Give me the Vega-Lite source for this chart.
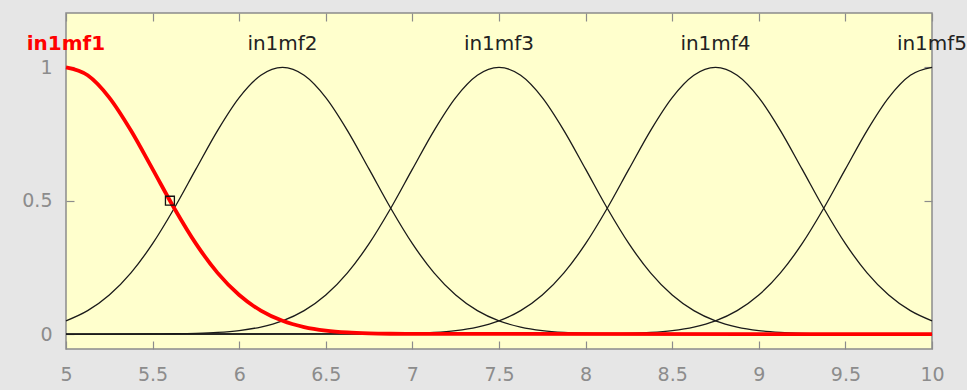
{
  "$schema": "https://vega.github.io/schema/vega-lite/v6.json",
  "width": 866,
  "height": 336,
  "autosize": "none",
  "padding": {"left": 66, "top": 13, "right": 35, "bottom": 41},
  "background": "#e6e6e6",
  "config": {
    "view": {"fill": "#ffffcd", "stroke": "#8c8c8c", "strokeWidth": 1.5},
    "font": "DejaVu Sans",
    "axis": {
      "domain": false,
      "grid": false,
      "title": null,
      "tickColor": "#8c8c8c",
      "tickWidth": 1.2,
      "tickSize": 8,
      "offset": -8,
      "labelFlush": false,
      "labelOverlap": false,
      "labelFont": "DejaVu Sans",
      "labelFontSize": 19,
      "labelColor": "#8c8c8c"
    }
  },
  "datasets": {
    "curves": [
      {"mf": "in1mf1", "x": 5, "mu": 1},
      {"mf": "in1mf1", "x": 5.125, "mu": 0.9704},
      {"mf": "in1mf1", "x": 5.25, "mu": 0.8868},
      {"mf": "in1mf1", "x": 5.375, "mu": 0.7632},
      {"mf": "in1mf1", "x": 5.5, "mu": 0.6184},
      {"mf": "in1mf1", "x": 5.625, "mu": 0.4719},
      {"mf": "in1mf1", "x": 5.75, "mu": 0.3391},
      {"mf": "in1mf1", "x": 5.875, "mu": 0.2295},
      {"mf": "in1mf1", "x": 6, "mu": 0.1463},
      {"mf": "in1mf1", "x": 6.125, "mu": 0.0878},
      {"mf": "in1mf1", "x": 6.25, "mu": 0.0496},
      {"mf": "in1mf1", "x": 6.375, "mu": 0.0264},
      {"mf": "in1mf1", "x": 6.5, "mu": 0.0132},
      {"mf": "in1mf1", "x": 6.625, "mu": 0.0062},
      {"mf": "in1mf1", "x": 6.75, "mu": 0.0028},
      {"mf": "in1mf1", "x": 6.875, "mu": 0.0012},
      {"mf": "in1mf1", "x": 7, "mu": 0.0005},
      {"mf": "in1mf1", "x": 10, "mu": 0},

      {"mf": "in1mf2", "x": 5, "mu": 0.0496},
      {"mf": "in1mf2", "x": 5.125, "mu": 0.0878},
      {"mf": "in1mf2", "x": 5.25, "mu": 0.1463},
      {"mf": "in1mf2", "x": 5.375, "mu": 0.2295},
      {"mf": "in1mf2", "x": 5.5, "mu": 0.3391},
      {"mf": "in1mf2", "x": 5.625, "mu": 0.4719},
      {"mf": "in1mf2", "x": 5.75, "mu": 0.6184},
      {"mf": "in1mf2", "x": 5.875, "mu": 0.7632},
      {"mf": "in1mf2", "x": 6, "mu": 0.8868},
      {"mf": "in1mf2", "x": 6.125, "mu": 0.9704},
      {"mf": "in1mf2", "x": 6.25, "mu": 1},
      {"mf": "in1mf2", "x": 6.375, "mu": 0.9704},
      {"mf": "in1mf2", "x": 6.5, "mu": 0.8868},
      {"mf": "in1mf2", "x": 6.625, "mu": 0.7632},
      {"mf": "in1mf2", "x": 6.75, "mu": 0.6184},
      {"mf": "in1mf2", "x": 6.875, "mu": 0.4719},
      {"mf": "in1mf2", "x": 7, "mu": 0.3391},
      {"mf": "in1mf2", "x": 7.125, "mu": 0.2295},
      {"mf": "in1mf2", "x": 7.25, "mu": 0.1463},
      {"mf": "in1mf2", "x": 7.375, "mu": 0.0878},
      {"mf": "in1mf2", "x": 7.5, "mu": 0.0496},
      {"mf": "in1mf2", "x": 7.625, "mu": 0.0264},
      {"mf": "in1mf2", "x": 7.75, "mu": 0.0132},
      {"mf": "in1mf2", "x": 7.875, "mu": 0.0062},
      {"mf": "in1mf2", "x": 8, "mu": 0.0028},
      {"mf": "in1mf2", "x": 8.125, "mu": 0.0012},
      {"mf": "in1mf2", "x": 8.25, "mu": 0.0005},
      {"mf": "in1mf2", "x": 10, "mu": 0},

      {"mf": "in1mf3", "x": 5, "mu": 0},
      {"mf": "in1mf3", "x": 5.5, "mu": 0.0005},
      {"mf": "in1mf3", "x": 5.625, "mu": 0.0012},
      {"mf": "in1mf3", "x": 5.75, "mu": 0.0028},
      {"mf": "in1mf3", "x": 5.875, "mu": 0.0062},
      {"mf": "in1mf3", "x": 6, "mu": 0.0132},
      {"mf": "in1mf3", "x": 6.125, "mu": 0.0264},
      {"mf": "in1mf3", "x": 6.25, "mu": 0.0496},
      {"mf": "in1mf3", "x": 6.375, "mu": 0.0878},
      {"mf": "in1mf3", "x": 6.5, "mu": 0.1463},
      {"mf": "in1mf3", "x": 6.625, "mu": 0.2295},
      {"mf": "in1mf3", "x": 6.75, "mu": 0.3391},
      {"mf": "in1mf3", "x": 6.875, "mu": 0.4719},
      {"mf": "in1mf3", "x": 7, "mu": 0.6184},
      {"mf": "in1mf3", "x": 7.125, "mu": 0.7632},
      {"mf": "in1mf3", "x": 7.25, "mu": 0.8868},
      {"mf": "in1mf3", "x": 7.375, "mu": 0.9704},
      {"mf": "in1mf3", "x": 7.5, "mu": 1},
      {"mf": "in1mf3", "x": 7.625, "mu": 0.9704},
      {"mf": "in1mf3", "x": 7.75, "mu": 0.8868},
      {"mf": "in1mf3", "x": 7.875, "mu": 0.7632},
      {"mf": "in1mf3", "x": 8, "mu": 0.6184},
      {"mf": "in1mf3", "x": 8.125, "mu": 0.4719},
      {"mf": "in1mf3", "x": 8.25, "mu": 0.3391},
      {"mf": "in1mf3", "x": 8.375, "mu": 0.2295},
      {"mf": "in1mf3", "x": 8.5, "mu": 0.1463},
      {"mf": "in1mf3", "x": 8.625, "mu": 0.0878},
      {"mf": "in1mf3", "x": 8.75, "mu": 0.0496},
      {"mf": "in1mf3", "x": 8.875, "mu": 0.0264},
      {"mf": "in1mf3", "x": 9, "mu": 0.0132},
      {"mf": "in1mf3", "x": 9.125, "mu": 0.0062},
      {"mf": "in1mf3", "x": 9.25, "mu": 0.0028},
      {"mf": "in1mf3", "x": 9.375, "mu": 0.0012},
      {"mf": "in1mf3", "x": 9.5, "mu": 0.0005},
      {"mf": "in1mf3", "x": 10, "mu": 0},

      {"mf": "in1mf4", "x": 5, "mu": 0},
      {"mf": "in1mf4", "x": 6.75, "mu": 0.0005},
      {"mf": "in1mf4", "x": 6.875, "mu": 0.0012},
      {"mf": "in1mf4", "x": 7, "mu": 0.0028},
      {"mf": "in1mf4", "x": 7.125, "mu": 0.0062},
      {"mf": "in1mf4", "x": 7.25, "mu": 0.0132},
      {"mf": "in1mf4", "x": 7.375, "mu": 0.0264},
      {"mf": "in1mf4", "x": 7.5, "mu": 0.0496},
      {"mf": "in1mf4", "x": 7.625, "mu": 0.0878},
      {"mf": "in1mf4", "x": 7.75, "mu": 0.1463},
      {"mf": "in1mf4", "x": 7.875, "mu": 0.2295},
      {"mf": "in1mf4", "x": 8, "mu": 0.3391},
      {"mf": "in1mf4", "x": 8.125, "mu": 0.4719},
      {"mf": "in1mf4", "x": 8.25, "mu": 0.6184},
      {"mf": "in1mf4", "x": 8.375, "mu": 0.7632},
      {"mf": "in1mf4", "x": 8.5, "mu": 0.8868},
      {"mf": "in1mf4", "x": 8.625, "mu": 0.9704},
      {"mf": "in1mf4", "x": 8.75, "mu": 1},
      {"mf": "in1mf4", "x": 8.875, "mu": 0.9704},
      {"mf": "in1mf4", "x": 9, "mu": 0.8868},
      {"mf": "in1mf4", "x": 9.125, "mu": 0.7632},
      {"mf": "in1mf4", "x": 9.25, "mu": 0.6184},
      {"mf": "in1mf4", "x": 9.375, "mu": 0.4719},
      {"mf": "in1mf4", "x": 9.5, "mu": 0.3391},
      {"mf": "in1mf4", "x": 9.625, "mu": 0.2295},
      {"mf": "in1mf4", "x": 9.75, "mu": 0.1463},
      {"mf": "in1mf4", "x": 9.875, "mu": 0.0878},
      {"mf": "in1mf4", "x": 10, "mu": 0.0496},

      {"mf": "in1mf5", "x": 5, "mu": 0},
      {"mf": "in1mf5", "x": 8, "mu": 0.0005},
      {"mf": "in1mf5", "x": 8.125, "mu": 0.0012},
      {"mf": "in1mf5", "x": 8.25, "mu": 0.0028},
      {"mf": "in1mf5", "x": 8.375, "mu": 0.0062},
      {"mf": "in1mf5", "x": 8.5, "mu": 0.0132},
      {"mf": "in1mf5", "x": 8.625, "mu": 0.0264},
      {"mf": "in1mf5", "x": 8.75, "mu": 0.0496},
      {"mf": "in1mf5", "x": 8.875, "mu": 0.0878},
      {"mf": "in1mf5", "x": 9, "mu": 0.1463},
      {"mf": "in1mf5", "x": 9.125, "mu": 0.2295},
      {"mf": "in1mf5", "x": 9.25, "mu": 0.3391},
      {"mf": "in1mf5", "x": 9.375, "mu": 0.4719},
      {"mf": "in1mf5", "x": 9.5, "mu": 0.6184},
      {"mf": "in1mf5", "x": 9.625, "mu": 0.7632},
      {"mf": "in1mf5", "x": 9.75, "mu": 0.8868},
      {"mf": "in1mf5", "x": 9.875, "mu": 0.9704},
      {"mf": "in1mf5", "x": 10, "mu": 1}
    ],
    "names": [
      {"mf": "in1mf1", "x": 5, "mu": 1.086},
      {"mf": "in1mf2", "x": 6.25, "mu": 1.086},
      {"mf": "in1mf3", "x": 7.5, "mu": 1.086},
      {"mf": "in1mf4", "x": 8.75, "mu": 1.086},
      {"mf": "in1mf5", "x": 10, "mu": 1.086}
    ],
    "cursor": [
      {"x": 5.6, "mu": 0.5}
    ]
  },
  "layer": [
    {
      "data": {"name": "curves"},
      "transform": [{"filter": "datum.mf !== 'in1mf1'"}],
      "mark": {"type": "line", "interpolate": "monotone", "color": "#1a1a1a", "strokeWidth": 1.3},
      "encoding": {
        "x": {"field": "x", "type": "quantitative",
              "scale": {"domain": [5, 10], "nice": false, "zero": false},
              "axis": {"orient": "bottom", "values": [5, 5.5, 6, 6.5, 7, 7.5, 8, 8.5, 9, 9.5, 10], "format": "~g", "labelPadding": 16}},
        "y": {"field": "mu", "type": "quantitative",
              "scale": {"domain": [-0.056, 1.204], "nice": false, "zero": false},
              "axis": {"orient": "left", "values": [0, 0.5, 1], "format": "~g", "labelPadding": 14}},
        "detail": {"field": "mf"}
      }
    },
    {
      "data": {"name": "curves"},
      "transform": [{"filter": "datum.mf === 'in1mf1'"}],
      "mark": {"type": "line", "interpolate": "monotone", "color": "#ff0000", "strokeWidth": 3.8},
      "encoding": {
        "x": {"field": "x", "type": "quantitative",
              "axis": {"orient": "top", "values": [5, 5.5, 6, 6.5, 7, 7.5, 8, 8.5, 9, 9.5, 10], "labels": false}},
        "y": {"field": "mu", "type": "quantitative",
              "axis": {"orient": "right", "values": [0, 0.5, 1], "labels": false}}
      }
    },
    {
      "data": {"name": "cursor"},
      "mark": {"type": "point", "shape": "square", "size": 80, "filled": false, "color": "#111111", "strokeWidth": 1.3, "opacity": 1},
      "encoding": {
        "x": {"field": "x", "type": "quantitative", "axis": null},
        "y": {"field": "mu", "type": "quantitative", "axis": null}
      }
    },
    {
      "data": {"name": "names"},
      "transform": [{"filter": "datum.mf !== 'in1mf1'"}],
      "mark": {"type": "text", "font": "DejaVu Sans", "fontSize": 20, "align": "center", "baseline": "middle", "color": "#222222", "clip": false},
      "encoding": {
        "x": {"field": "x", "type": "quantitative", "axis": null},
        "y": {"field": "mu", "type": "quantitative", "axis": null},
        "text": {"field": "mf"}
      }
    },
    {
      "data": {"name": "names"},
      "transform": [{"filter": "datum.mf === 'in1mf1'"}],
      "mark": {"type": "text", "font": "DejaVu Sans", "fontSize": 20, "fontWeight": "bold", "align": "center", "baseline": "middle", "color": "#ff0000", "clip": false},
      "encoding": {
        "x": {"field": "x", "type": "quantitative", "axis": null},
        "y": {"field": "mu", "type": "quantitative", "axis": null},
        "text": {"field": "mf"}
      }
    }
  ],
  "resolve": {"axis": {"x": "independent", "y": "independent"}}
}
